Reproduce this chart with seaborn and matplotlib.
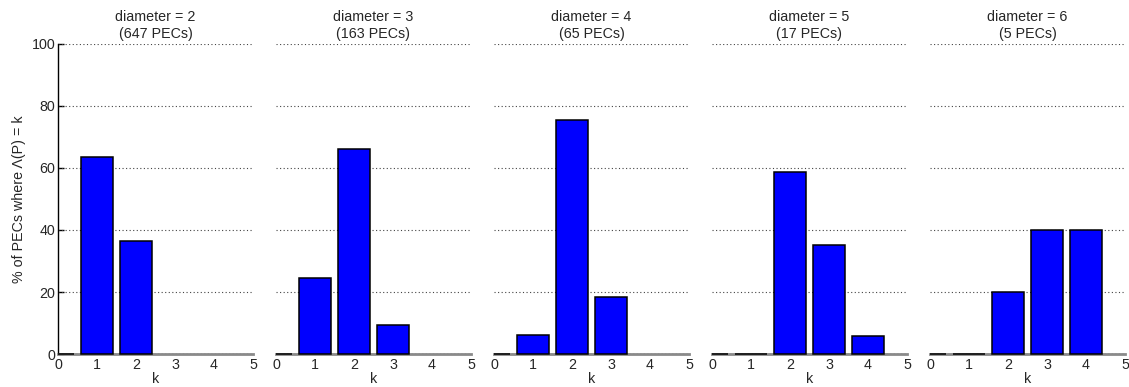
import matplotlib
matplotlib.use("Agg")
import matplotlib.pyplot as plt
from matplotlib.patches import Rectangle
import seaborn as sns
import pandas as pd

# Share of PECs (percent) for each value of k, per graph diameter
diameters = [2, 3, 4, 5, 6]
pec_counts = [647, 163, 65, 17, 5]
k_d2 = [0, 1, 2]
pct_d2 = [0.0, 63.68, 36.32]
k_d3 = [0, 1, 2, 3]
pct_d3 = [0.0, 24.54, 66.26, 9.20]
k_d4 = [0, 1, 2, 3]
pct_d4 = [0.0, 6.15, 75.38, 18.46]
k_d5 = [0, 1, 2, 3, 4]
pct_d5 = [0.0, 0.0, 58.82, 35.29, 5.88]
k_d6 = [0, 1, 2, 3, 4]
pct_d6 = [0.0, 0.0, 20.0, 40.0, 40.0]

x_ticks = [0, 1, 2, 3, 4, 5]
y_ticks = [0, 20, 40, 60, 80, 100]

frames = []
for d, ks, ps in zip(diameters,
                     [k_d2, k_d3, k_d4, k_d5, k_d6],
                     [pct_d2, pct_d3, pct_d4, pct_d5, pct_d6]):
    frames.append(pd.DataFrame({"diameter": d, "k": ks, "pct": ps}))
df = pd.concat(frames, ignore_index=True)

sns.set_theme(style="white")
plt.rcParams["font.family"] = ["Liberation Sans", "DejaVu Sans"]
plt.rcParams["font.size"] = 10.3

W, H = 1129, 387
fig = plt.figure(figsize=(W / 100, H / 100), dpi=100)

left0, pitch, width = 58, 218, 195
bottom, top = 354, 44
fs = 10.3

for i, (d, n) in enumerate(zip(diameters, pec_counts)):
    ax = fig.add_axes([(left0 + i * pitch) / W, (H - bottom) / H,
                       width / W, (bottom - top) / H])
    sub = df[df["diameter"] == d]
    sns.barplot(data=sub, x="k", y="pct", native_scale=True, width=0.8,
                color="#0000ff", saturation=1, edgecolor="black",
                linewidth=1.1, errorbar=None, ax=ax, zorder=3)
    # clip bars only at the sides so zero-height bars stay fully visible
    clip = Rectangle((0, -0.05), 1, 1.1, transform=ax.transAxes)
    for p in ax.patches:
        p.set_clip_path(clip)
    ax.set_xlim(0, 5)
    ax.set_ylim(0, 100)
    ax.set_xticks(x_ticks)
    ax.set_yticks(y_ticks)
    ax.set_xticklabels([str(t) for t in x_ticks], fontsize=fs)
    ax.tick_params(axis="x", direction="in", length=4, width=1,
                   color="black", pad=3)
    for y in y_ticks[1:]:
        ax.axhline(y, color="#444444", linestyle=(0, (1, 2.2)),
                   linewidth=0.8, zorder=1)
    ax.axhline(0, color="#333333", linestyle=(0, (1, 2.2)),
               linewidth=0.8, zorder=2.6)
    for s in ["top", "right"]:
        ax.spines[s].set_visible(False)
    ax.spines["bottom"].set_color("#8a8a8a")
    ax.spines["bottom"].set_linewidth(2.0)
    ax.set_xlabel("k", fontsize=fs, labelpad=0)
    ax.set_title(f"diameter = {d}\n({n} PECs)", fontsize=fs, pad=4,
                 linespacing=1.3)
    if i == 0:
        ax.spines["left"].set_color("black")
        ax.spines["left"].set_linewidth(1.0)
        ax.set_yticklabels([str(t) for t in y_ticks], fontsize=fs)
        ax.tick_params(axis="y", direction="in", length=4, width=1,
                       color="black", pad=2, left=True)
        ax.set_ylabel("% of PECs where Λ(P) = k", fontsize=fs, labelpad=4)
    else:
        ax.spines["left"].set_visible(False)
        ax.set_yticklabels([])
        ax.tick_params(axis="y", left=False)
        ax.set_ylabel("")

fig.savefig("out.png", dpi=100, facecolor="white")
